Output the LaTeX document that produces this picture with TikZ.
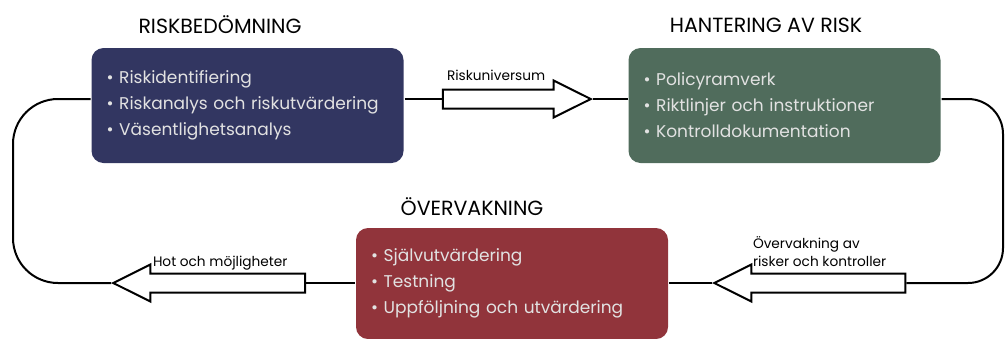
\documentclass[tikz,border=0pt]{standalone}
\usepackage{fontspec}
\setmainfont{Poppins}
\usetikzlibrary{shapes.arrows}

\definecolor{bedblue}{HTML}{323661}
\definecolor{hantgreen}{HTML}{506C5C}
\definecolor{overvred}{HTML}{91343B}
\definecolor{boxtext}{HTML}{E2E2E2}

\begin{document}
\begin{tikzpicture}[
                x=1pt, y=-1pt,
                line width=2pt,
                box/.style={
                  rounded corners=12pt,
                  minimum width=312pt,
                  inner xsep=15pt,
                  text width=282pt,
                  align=left,
                  text=boxtext,
                  font=\fontsize{17}{26}\selectfont,
                },
                heading/.style={font=\fontsize{20.5}{22}\selectfont},
                blockarrow/.style={
                  single arrow,
                  draw,
                  fill=white,
                  inner xsep=0pt,
                  inner ysep=8.5pt,
                  single arrow head extend=9pt,
                  single arrow tip angle=53,
                  anchor=tip,
                },
                lbl/.style={font=\fontsize{13.7}{18}\selectfont, anchor=base west, inner sep=0pt, align=left},
              ]
              \useasboundingbox (0,0) rectangle (1008,338);
              % the three boxes
              \node[heading] (bedhead) at (220,25) {RISKBEDÖMNING} ;
              \node[box, fill=bedblue, minimum height=115pt] (bed) at (247.5,105.5)
                {• Riskidentifiering\\• Riskanalys och riskutvärdering\\• Väsentlighetsanalys} ;
              \node[heading] (hanthead) at (766,25) {HANTERING AV RISK} ;
              \node[box, fill=hantgreen, minimum height=115pt] (hant) at (784.5,105.5)
                {• Policyramverk\\• Riktlinjer och instruktioner\\• Kontrolldokumentation} ;
              \node[heading] (overvhead) at (472,207) {ÖVERVAKNING} ;
              \node[box, fill=overvred, minimum height=111pt] (overv) at (512,283.5)
                {• Självutvärdering\\• Testning\\• Uppföljning och utvärdering} ;
              % block arrows
              \node[blockarrow, minimum height=148pt] (univ) at (593,99) {} ;
              \node[blockarrow, minimum height=191pt, shape border rotate=180] (kontr) at (712,283) {} ;
              \node[blockarrow, minimum height=192pt, shape border rotate=180] (hot) at (111,283) {} ;
              \node[lbl] (univlbl) at (446,80) {Riskuniversum} ;
              \node[lbl] (kontrlbl) at (752,266) {Övervakning av\\risker och kontroller} ;
              \node[lbl] (hotlbl) at (152,266) {Hot och möjligheter} ;
              % connectors
              \draw (bed.east |- univ.tip) -- (univ.tail) ;
              \draw (univ.tip) -- (hant.west |- univ.tip) ;
              \draw[rounded corners=35pt] (hant.east |- univ.tip) -- (1003,99) -- (1003,283) -- (kontr.tail) ;
              \draw (kontr.tip) -- (overv.east |- kontr.tip) ;
              \draw (overv.west |- hot.tail) -- (hot.tail) ;
              \draw[rounded corners=45pt] (hot.tip) -- (13,283) -- (13,99) -- (bed.west |- univ.tip) ;
              \end{tikzpicture}
\end{document}
